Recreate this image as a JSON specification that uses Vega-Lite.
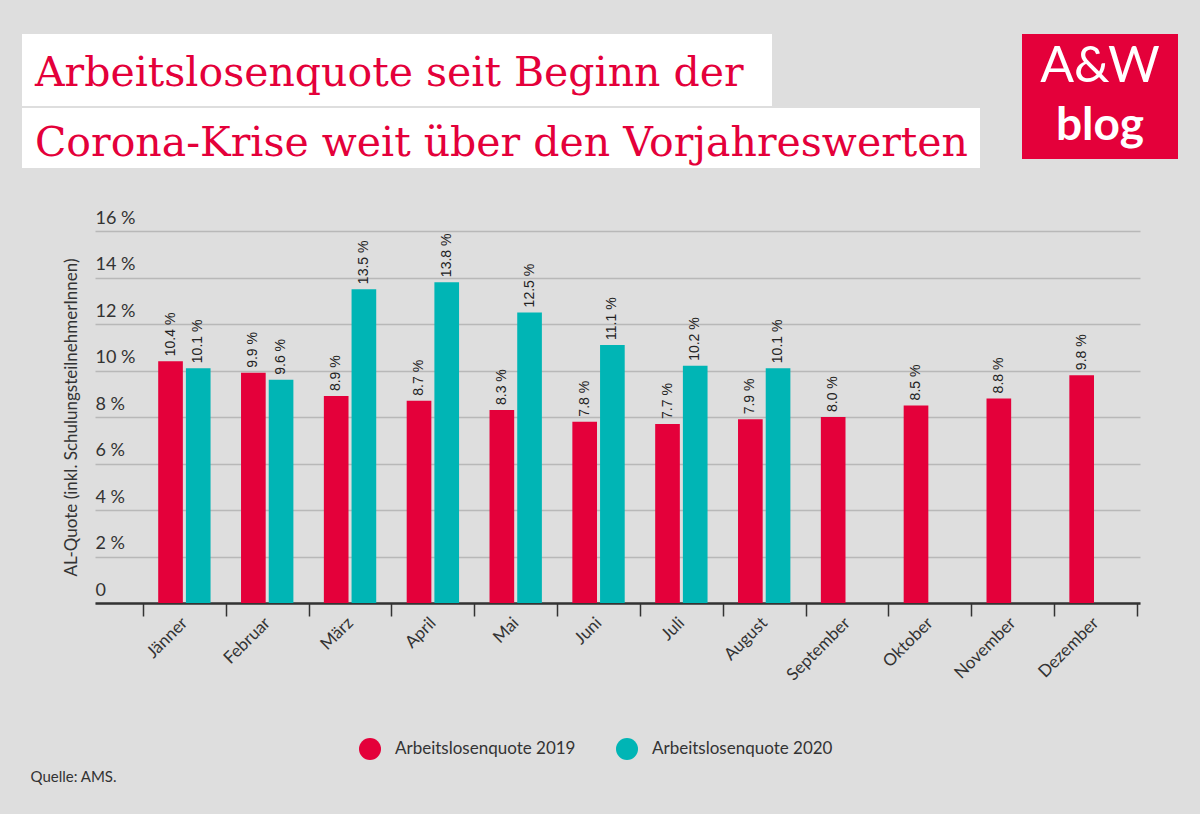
{
  "$schema": "https://vega.github.io/schema/vega-lite/v6.json",
  "background": "#dedede",
  "padding": {"left": 15, "top": 34, "right": 22, "bottom": 30},
  "config": {
    "view": {"stroke": null},
    "axis": {"labelFont": "Lato", "titleFont": "Lato"},
    "legend": {"labelFont": "Lato", "titleFont": "Lato"}
  },
  "columns": 1,
  "align": "none",
  "spacing": {"row": 41, "column": 0},
  "concat": [
    {
      "spacing": 42,
      "hconcat": [
        {
          "spacing": 2,
          "vconcat": [
            {
              "width": 750,
              "height": 72,
              "view": {"fill": "white", "stroke": null},
              "title": {"text": "Arbeitslosenquote seit Beginn der", "anchor": "start", "orient": "top", "frame": "group", "offset": -93, "dx": 13, "baseline": "alphabetic", "font": "DejaVu Serif", "fontSize": 41, "fontWeight": "normal", "color": "#e4003a"},
              "data": {"values": [{}]},
              "mark": {"type": "rect", "fill": "white"},
              "encoding": {}
            },
            {
              "width": 958,
              "height": 60,
              "view": {"fill": "white", "stroke": null},
              "title": {"text": "Corona-Krise weit über den Vorjahreswerten", "anchor": "start", "orient": "top", "frame": "group", "offset": -89, "dx": 13, "baseline": "alphabetic", "font": "DejaVu Serif", "fontSize": 41, "fontWeight": "normal", "color": "#e4003a"},
              "data": {"values": [{}]},
              "mark": {"type": "rect", "fill": "white"},
              "encoding": {}
            }
          ]
        },
        {
          "width": 156,
          "height": 125,
          "view": {"fill": "#e4003a", "stroke": null},
          "title": {"text": "A&W", "subtitle": "blog", "anchor": "middle", "orient": "top", "frame": "group", "offset": -155, "baseline": "alphabetic", "font": "Lato", "fontSize": 50, "fontWeight": "normal", "color": "white", "subtitleFont": "Lato", "subtitleFontSize": 46, "subtitleFontWeight": "bold", "subtitleColor": "white", "subtitlePadding": 8},
          "data": {"values": [{}]},
          "mark": {"type": "rect", "fill": "#e4003a"},
          "encoding": {}
        }
      ]
    },
    {
      "width": 1118,
      "height": 372,
      "data": {
        "values": [
          {"month": "Jänner", "series": "Arbeitslosenquote 2019", "value": 10.4, "label": "10.4 %"},
          {"month": "Jänner", "series": "Arbeitslosenquote 2020", "value": 10.1, "label": "10.1 %"},
          {"month": "Februar", "series": "Arbeitslosenquote 2019", "value": 9.9, "label": "9.9 %"},
          {"month": "Februar", "series": "Arbeitslosenquote 2020", "value": 9.6, "label": "9.6 %"},
          {"month": "März", "series": "Arbeitslosenquote 2019", "value": 8.9, "label": "8.9 %"},
          {"month": "März", "series": "Arbeitslosenquote 2020", "value": 13.5, "label": "13.5 %"},
          {"month": "April", "series": "Arbeitslosenquote 2019", "value": 8.7, "label": "8.7 %"},
          {"month": "April", "series": "Arbeitslosenquote 2020", "value": 13.8, "label": "13.8 %"},
          {"month": "Mai", "series": "Arbeitslosenquote 2019", "value": 8.3, "label": "8.3 %"},
          {"month": "Mai", "series": "Arbeitslosenquote 2020", "value": 12.5, "label": "12.5 %"},
          {"month": "Juni", "series": "Arbeitslosenquote 2019", "value": 7.8, "label": "7.8 %"},
          {"month": "Juni", "series": "Arbeitslosenquote 2020", "value": 11.1, "label": "11.1 %"},
          {"month": "Juli", "series": "Arbeitslosenquote 2019", "value": 7.7, "label": "7.7 %"},
          {"month": "Juli", "series": "Arbeitslosenquote 2020", "value": 10.2, "label": "10.2 %"},
          {"month": "August", "series": "Arbeitslosenquote 2019", "value": 7.9, "label": "7.9 %"},
          {"month": "August", "series": "Arbeitslosenquote 2020", "value": 10.1, "label": "10.1 %"},
          {"month": "September", "series": "Arbeitslosenquote 2019", "value": 8.0, "label": "8.0 %"},
          {"month": "Oktober", "series": "Arbeitslosenquote 2019", "value": 8.5, "label": "8.5 %"},
          {"month": "November", "series": "Arbeitslosenquote 2019", "value": 8.8, "label": "8.8 %"},
          {"month": "Dezember", "series": "Arbeitslosenquote 2019", "value": 9.8, "label": "9.8 %"}
        ]
      },
      "encoding": {
        "x": {
          "field": "month",
          "type": "nominal",
          "sort": ["Jänner", "Februar", "März", "April", "Mai", "Juni", "Juli", "August", "September", "Oktober", "November", "Dezember"],
          "scale": {"range": [73, 1118], "paddingInner": 0, "paddingOuter": 0.308, "align": 0.94},
          "axis": {
            "title": "Quelle: AMS.",
            "titleX": 8,
            "titleY": 178,
            "titleAlign": "left",
            "titleAnchor": "start",
            "titleBaseline": "alphabetic",
            "titleFontSize": 15,
            "titleFontWeight": "normal",
            "titleColor": "#333333",
            "domain": true,
            "domainColor": "#333333",
            "domainWidth": 2.5,
            "grid": false,
            "tickBand": "extent",
            "tickSize": 13,
            "tickWidth": 1.5,
            "tickColor": "#333333",
            "labelAngle": -45,
            "labelAlign": "right",
            "labelBaseline": "middle",
            "labelPadding": 4,
            "labelFontSize": 17,
            "labelColor": "#333333"
          }
        },
        "xOffset": {"field": "series", "type": "nominal", "scale": {"paddingInner": 0.11, "paddingOuter": 0.55}},
        "y": {
          "field": "value",
          "type": "quantitative",
          "scale": {"domain": [0, 16], "nice": false},
          "axis": {
            "offset": -73,
            "values": [0, 2, 4, 6, 8, 10, 12, 14, 16],
            "labelExpr": "datum.value == 0 ? '0' : datum.value + ' %'",
            "title": "AL-Quote (inkl. SchulungsteilnehmerInnen)",
            "titleFontSize": 17,
            "titleFontWeight": "normal",
            "titleColor": "#333333",
            "titlePadding": 15,
            "domain": false,
            "ticks": false,
            "grid": true,
            "gridColor": "#b8b8b8",
            "gridWidth": 1.5,
            "labelAlign": "left",
            "labelBaseline": "bottom",
            "labelPadding": 0,
            "labelOffset": -4,
            "labelFontSize": 18,
            "labelColor": "#333333"
          }
        }
      },
      "layer": [
        {
          "mark": {"type": "bar"},
          "encoding": {
            "color": {
              "field": "series",
              "type": "nominal",
              "scale": {"domain": ["Arbeitslosenquote 2019", "Arbeitslosenquote 2020"], "range": ["#e4003a", "#00b5b5"]},
              "legend": {
                "title": null,
                "orient": "none",
                "legendX": 337,
                "legendY": 704,
                "direction": "horizontal",
                "symbolType": "circle",
                "symbolSize": 484,
                "symbolStrokeWidth": 0,
                "labelFontSize": 17,
                "labelColor": "#333333",
                "labelOffset": 14,
                "labelLimit": 0,
                "columnPadding": 40
              }
            }
          }
        },
        {
          "mark": {"type": "text", "angle": 270, "align": "left", "baseline": "middle", "dx": 5, "font": "Liberation Sans", "fontSize": 14, "color": "#222222"},
          "encoding": {"text": {"field": "label", "type": "nominal"}}
        }
      ]
    }
  ]
}
